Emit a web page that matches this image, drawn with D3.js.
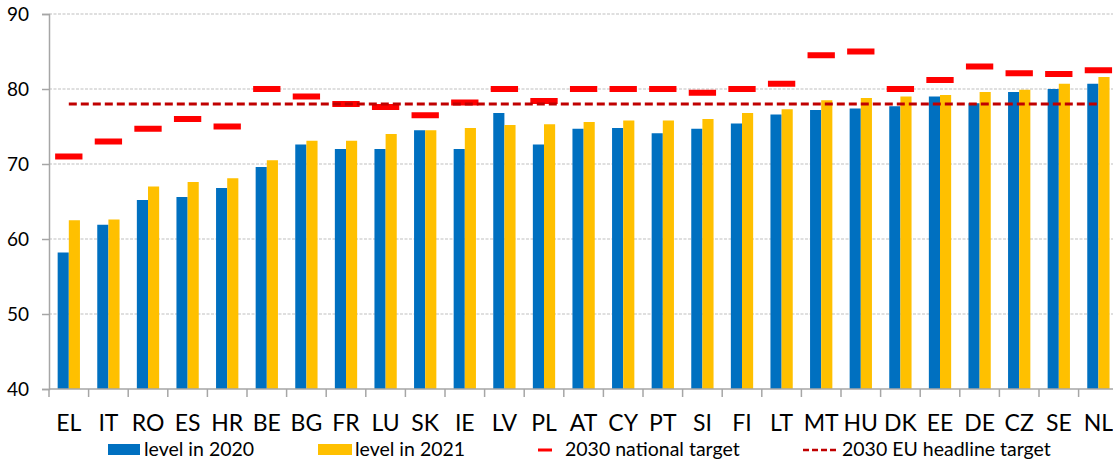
<!DOCTYPE html>
<html>
<head>
<meta charset="utf-8">
<script src="https://cdn.jsdelivr.net/npm/d3@7"></script>
<style>
  html, body { margin: 0; padding: 0; background: #fff; }
  svg { display: block; }
  text { font-family: Lato, "Open Sans", sans-serif; fill: #000; }
</style>
</head>
<body>
<svg id="chart" width="1113" height="459"></svg>
<script>
const categories = ["EL","IT","RO","ES","HR","BE","BG","FR","LU","SK","IE","LV","PL","AT","CY","PT","SI","FI","LT","MT","HU","DK","EE","DE","CZ","SE","NL"];
const level2020 = [58.2,61.9,65.2,65.6,66.8,69.6,72.6,72.0,72.0,74.5,72.0,76.8,72.6,74.7,74.8,74.1,74.7,75.4,76.6,77.2,77.4,77.7,79.0,78.1,79.6,80.0,80.7];
const level2021 = [62.5,62.6,67.0,67.6,68.1,70.5,73.1,73.1,74.0,74.5,74.8,75.2,75.3,75.6,75.8,75.8,76.0,76.8,77.3,78.5,78.8,79.0,79.2,79.6,79.9,80.7,81.6];
const nationalTarget = [71,73,74.7,76,75,80,79,78,77.6,76.5,78.2,80,78.4,80,80,80,79.5,80,80.7,84.5,85,80,81.2,83,82.1,82,82.5];
const euTarget = 78;
const yTicks = [40,50,60,70,80,90];
const seriesNames = ["level in 2020","level in 2021"];
const legendLabels = ["level in 2020","level in 2021","2030 national target","2030 EU headline target"];
const colors = {b2020:"#0070C0", b2021:"#FFC000", target:"#FF0000", eu:"#C00000", grid:"#BFBFBF", axis:"#A6A6A6"};

(function () {
const svg = d3.select("#chart");
const mLeft = 49, mRight = 1118.2, mTop = 14, mBottom = 389;

const x = d3.scaleBand().domain(categories).range([mLeft, mRight]).paddingInner(0.437).paddingOuter(0.2185);
const xs = d3.scaleBand().domain(seriesNames).range([0, x.bandwidth()]);
const y = d3.scaleLinear().domain([40, 90]).range([mBottom, mTop]);
const step = x.step();

// grid lines
svg.append("g").selectAll("line").data(yTicks.filter(t => t > 40)).join("line")
  .attr("x1", mLeft).attr("x2", 1113)
  .attr("y1", d => y(d)).attr("y2", d => y(d))
  .attr("stroke", colors.grid).attr("stroke-width", 1).attr("stroke-dasharray", "3,1.5");

// bars
const data = categories.map((c, i) => ({c, v: [level2020[i], level2021[i]], t: nationalTarget[i]}));
const grp = svg.append("g").selectAll("g").data(data).join("g")
  .attr("transform", d => `translate(${x(d.c)},0)`);
grp.selectAll("rect.bar").data(d => d.v.map((v, k) => ({k, v}))).join("rect")
  .attr("class", "bar")
  .attr("x", d => xs(seriesNames[d.k]))
  .attr("width", xs.bandwidth())
  .attr("y", d => y(d.v))
  .attr("height", d => y(40) - y(d.v))
  .attr("fill", d => d.k === 0 ? colors.b2020 : colors.b2021);

// national targets
const tw = step * 0.69;
svg.append("g").selectAll("rect").data(data).join("rect")
  .attr("x", d => x(d.c) + x.bandwidth() / 2 - tw / 2)
  .attr("width", tw)
  .attr("y", d => y(d.t) - 3)
  .attr("height", 6)
  .attr("fill", colors.target);

// EU headline target
svg.append("line")
  .attr("x1", x(categories[0]) + x.bandwidth() / 2)
  .attr("x2", x(categories[categories.length - 1]) + x.bandwidth() / 2)
  .attr("y1", y(euTarget)).attr("y2", y(euTarget))
  .attr("stroke", colors.eu).attr("stroke-width", 3).attr("stroke-dasharray", "8,4");

// y axis
const yAxis = d3.axisLeft(y).tickValues(yTicks).tickSize(7).tickPadding(13).tickFormat(d3.format("d"));
const yg = svg.append("g").attr("transform", `translate(${mLeft},0)`).call(yAxis);
yg.select(".domain").attr("stroke", colors.axis).attr("stroke-width", 1.5);
yg.selectAll(".tick line").attr("stroke", colors.axis).attr("stroke-width", 1.5);
yg.selectAll(".tick text").attr("font-size", 19).attr("font-family", "Lato, sans-serif").attr("fill", "#000");

// x axis
svg.append("line").attr("x1", mLeft).attr("x2", mRight).attr("y1", mBottom).attr("y2", mBottom)
  .attr("stroke", colors.axis).attr("stroke-width", 1.5);
const bounds = categories.map(c => x(c) - x.step() * x.paddingInner() / 2);
svg.append("g").selectAll("line").data(bounds).join("line")
  .attr("x1", d => d).attr("x2", d => d).attr("y1", mBottom).attr("y2", mBottom + 8)
  .attr("stroke", colors.axis).attr("stroke-width", 1.5);
svg.append("g").selectAll("text").data(categories).join("text")
  .attr("x", d => x(d) + x.bandwidth() / 2)
  .attr("y", 431)
  .attr("text-anchor", "middle")
  .attr("font-size", 23)
  .text(d => d);

// legend
const ly = 456;
const fs = 19.5;
const lg = svg.append("g");
lg.append("rect").attr("x", 108).attr("y", 444).attr("width", 32).attr("height", 11).attr("fill", colors.b2020);
lg.append("text").attr("x", 144).attr("y", ly).attr("font-size", fs).text(legendLabels[0]);
lg.append("rect").attr("x", 318).attr("y", 444).attr("width", 34).attr("height", 11).attr("fill", colors.b2021);
lg.append("text").attr("x", 355).attr("y", ly).attr("font-size", fs).text(legendLabels[1]);
lg.append("line").attr("x1", 538).attr("x2", 552).attr("y1", 450).attr("y2", 450).attr("stroke", colors.target).attr("stroke-width", 3);
lg.append("text").attr("x", 565).attr("y", ly).attr("font-size", fs).text(legendLabels[2]);
lg.append("line").attr("x1", 803).attr("x2", 838).attr("y1", 450).attr("y2", 450).attr("stroke", colors.eu).attr("stroke-width", 2.5).attr("stroke-dasharray", "6,3");
lg.append("text").attr("x", 842).attr("y", ly).attr("font-size", fs).text(legendLabels[3]);
})();
</script>
</body>
</html>
